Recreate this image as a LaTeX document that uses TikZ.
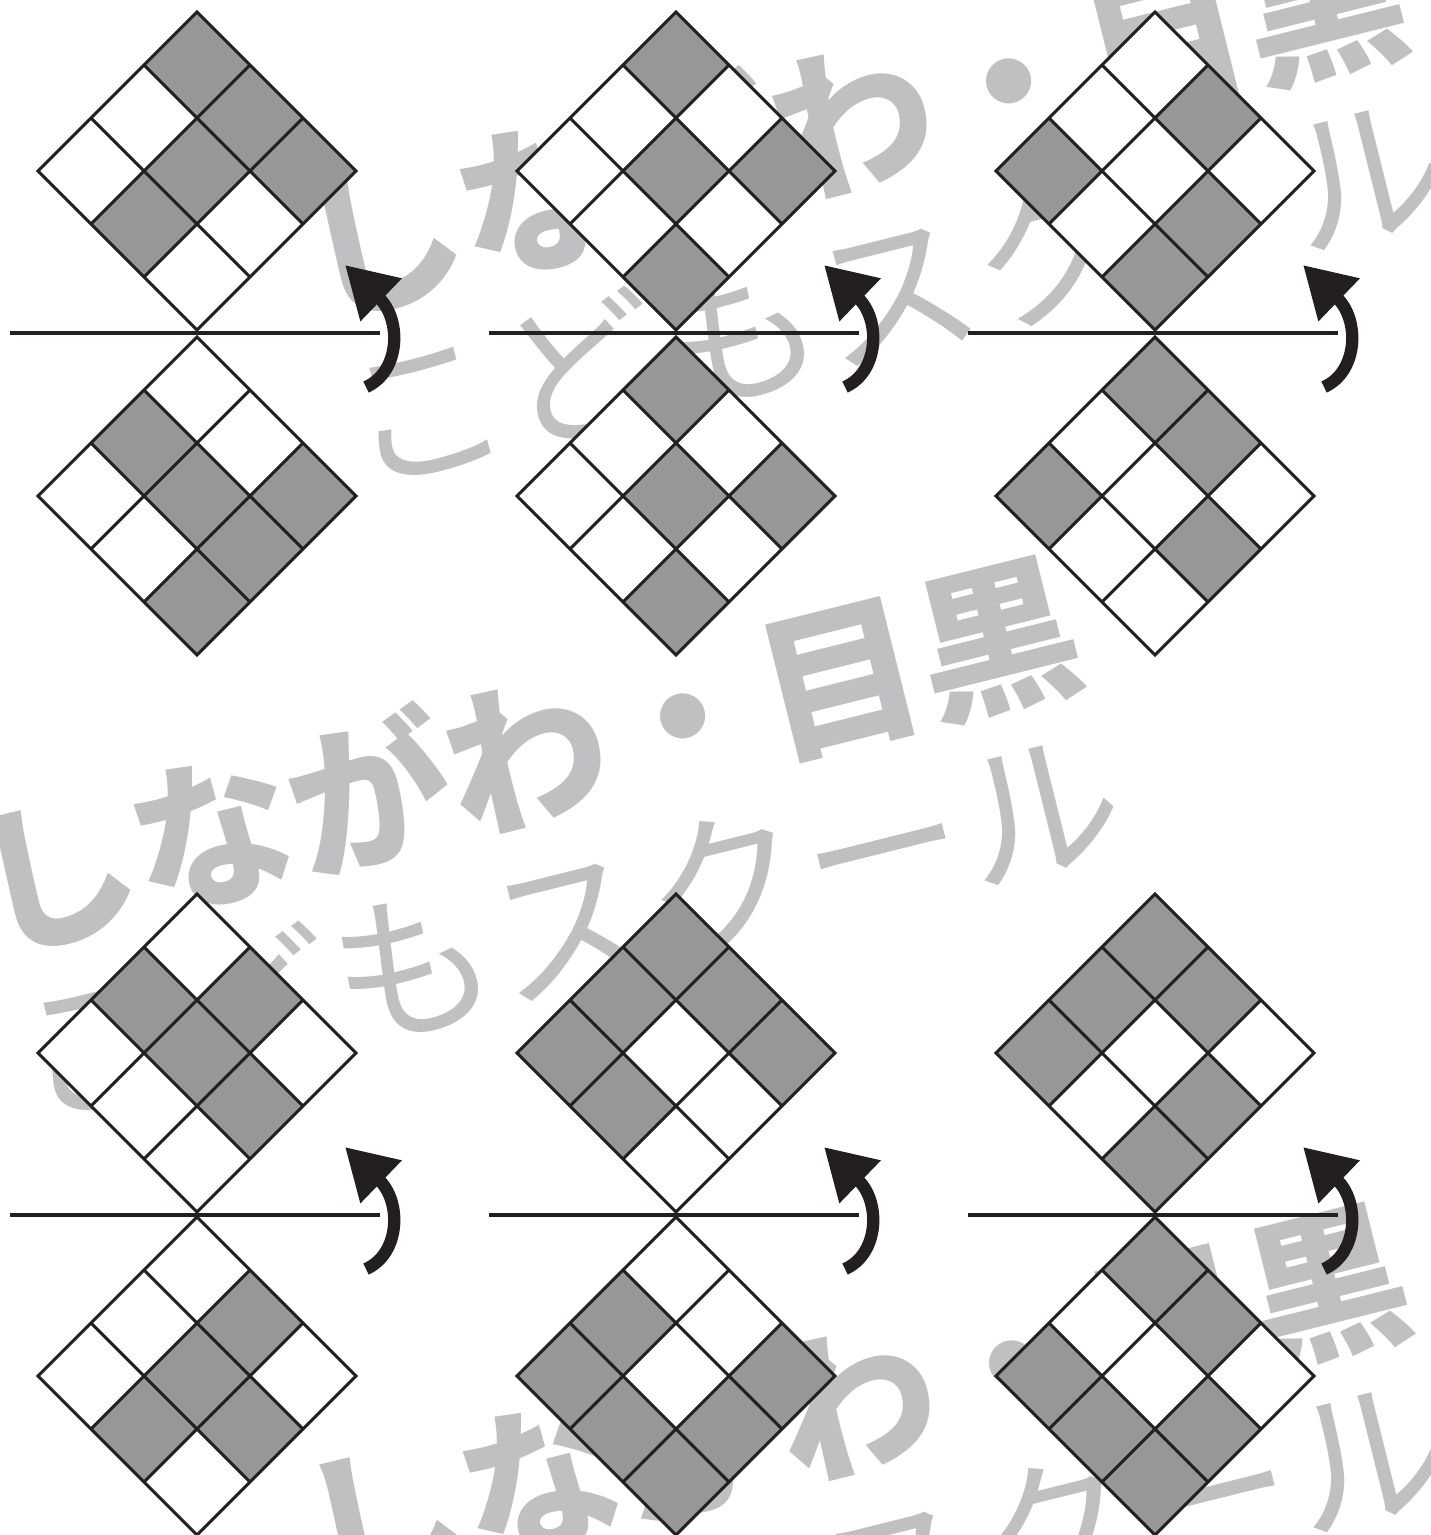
\documentclass[tikz,border=0pt]{standalone}
\usepackage{fontspec}
\usepackage{xcolor}
\usepackage{tikz}
\usetikzlibrary{arrows.meta}

\newfontfamily\jpfont{Noto Sans CJK JP}
\definecolor{cellgray}{RGB}{151,151,153}
\definecolor{inkblack}{RGB}{35,31,32}
\definecolor{wmgray}{RGB}{192,192,194}

\tikzset{
  cell/.style={fill=cellgray},
  gridline/.style={draw=inkblack, line width=0.85pt, line join=miter},
  foldline/.style={draw=inkblack, line width=1.3pt},
  turnarrow/.style={draw=inkblack, line width=3.5pt, -{Triangle[length=14.3pt,width=16pt]}},
  wmark/.style={text=wmgray, font=\jpfont\fontsize{46pt}{50pt}\selectfont,
    rotate=14, align=center, inner sep=0pt}
}

% 3x3 grid turned by 45 degrees, #3 = gray cells as offsets u/v
\newcommand{\flipgrid}[3]{%
  \begin{scope}[shift={(#1,#2)}]
    \fill[white] (-159,0) -- (0,-159) -- (159,0) -- (0,159) -- cycle;
    \foreach \u/\v in {#3}
      \fill[cell] (\u*53-53,\v*53) -- (\u*53,\v*53-53) -- (\u*53+53,\v*53) -- (\u*53,\v*53+53) -- cycle;
    \draw[gridline] (-159,0) -- (0,-159) -- (159,0) -- (0,159) -- cycle
      (-53,-106) -- (106,53) (-106,-53) -- (53,106)
      (53,-106) -- (-106,53) (106,-53) -- (-53,106);
  \end{scope}}

% fold line with the turning arrow
\newcommand{\flipaxis}[2]{%
  \begin{scope}[shift={(#1,#2)}]
    \draw[foldline] (-187,0) -- (183,0);
    \draw[turnarrow] (169,54) .. controls (203,39) and (205,-13) .. (148,-68);
  \end{scope}}

\begin{document}
\begin{tikzpicture}[x=0.1mm, y=-0.1mm]
  \useasboundingbox (0,0) rectangle (1430,1535);
  \clip (0,0) rectangle (1430,1535);
  % Watermark
  \node[wmark] (wmtop) at (872,200) {{\bfseries しながわ・目黒}\\こどもスクール};
  \node[wmark] (wmmid) at (546,835) {{\bfseries しながわ・目黒}\\こどもスクール};
  \node[wmark] (wmbot) at (875,1482) {{\bfseries しながわ・目黒}\\こどもスクール};
  % Top row
  \flipgrid{197}{171}{0/-2, 1/-1, 0/0, 2/0, -1/1}
  \flipgrid{197}{496}{-1/-1, 0/0, 2/0, 1/1, 0/2}
  \flipgrid{676}{171}{0/-2, 0/0, 2/0, 0/2}
  \flipgrid{676}{496}{0/-2, 0/0, 2/0, 0/2}
  \flipgrid{1155}{171}{1/-1, -2/0, 1/1, 0/2}
  \flipgrid{1155}{496}{0/-2, 1/-1, -2/0, 1/1}
  % Bottom row
  \flipgrid{197}{1053}{-1/-1, 1/-1, 0/0, 1/1}
  \flipgrid{197}{1376}{1/-1, 0/0, -1/1, 1/1}
  \flipgrid{676}{1053}{0/-2, -1/-1, 1/-1, -2/0, 2/0, -1/1}
  \flipgrid{676}{1376}{-1/-1, -2/0, 2/0, -1/1, 1/1, 0/2}
  \flipgrid{1155}{1053}{0/-2, -1/-1, 1/-1, -2/0, 1/1, 0/2}
  \flipgrid{1155}{1376}{0/-2, 1/-1, -2/0, -1/1, 1/1, 0/2}
  % Fold lines and arrows
  \flipaxis{197}{333}
  \flipaxis{676}{333}
  \flipaxis{1155}{333}
  \flipaxis{197}{1215}
  \flipaxis{676}{1215}
  \flipaxis{1155}{1215}
\end{tikzpicture}
\end{document}
